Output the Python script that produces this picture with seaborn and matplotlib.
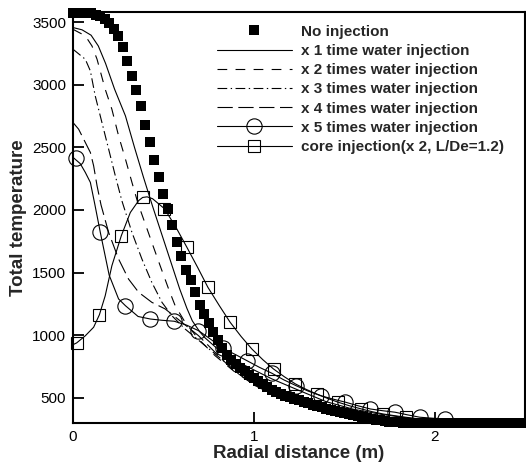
import numpy as np
import matplotlib
matplotlib.use("Agg")
import matplotlib.pyplot as plt
import seaborn as sns
from matplotlib.lines import Line2D

sns.set_style("ticks")
plt.rcParams['font.family'] = ['Liberation Sans', 'DejaVu Sans']
plt.rcParams['lines.scale_dashes'] = False

# no injection: sampled every 0.025 m
r_base = np.round(np.arange(0, 2.5001, 0.025), 3)
t_base = [3575, 3575, 3575, 3574, 3570, 3560, 3546, 3526, 3493, 3448,
          3385, 3300, 3190, 3070, 2955, 2830, 2680, 2545, 2395, 2260,
          2130, 2010, 1880, 1745, 1630, 1525, 1440, 1345, 1245, 1170,
          1100, 1030, 960, 895, 845, 805, 770, 740, 712, 686,
          660, 635, 610, 588, 567, 548, 532, 517, 504, 492,
          480, 468, 456, 445, 434, 424, 414, 405, 396, 388,
          380, 372, 364, 356, 348, 340, 333, 326, 320, 315,
          311, 307, 304, 302, 301, 300, 300, 300, 300, 300,
          300, 300, 300, 300, 300, 300, 300, 300, 300, 300,
          300, 300, 300, 300, 300, 300, 300, 300, 300, 300, 300]

r_x1 = [0.0, 0.05, 0.1, 0.14, 0.18, 0.23, 0.29, 0.34, 0.39, 0.44, 0.49, 0.54, 0.59,
        0.63, 0.66, 0.7, 0.73, 0.82, 0.95, 1.1, 1.25, 1.4, 1.55, 1.7, 1.85, 2.0, 2.2, 2.5]
t_x1 = [3456, 3438, 3395, 3309, 3170, 2964, 2751, 2500, 2260, 2030, 1810, 1590, 1370,
        1215, 1115, 1030, 980, 865, 760, 652, 560, 470, 410, 370, 340, 320, 308, 302]

r_x2 = [0.0, 0.068, 0.105, 0.133, 0.178, 0.215, 0.252, 0.29, 0.326, 0.36, 0.436, 0.482,
        0.529, 0.565, 0.62, 0.694, 0.786, 0.897, 1.026, 1.15, 1.3, 1.5, 1.7, 1.9, 2.1, 2.5]
t_x2 = [3442, 3390, 3309, 3203, 2964, 2804, 2592, 2406, 2220, 2050, 1741, 1555,
        1369, 1236, 1104, 970, 837, 705, 585, 500, 430, 370, 335, 315, 306, 301]

r_x3 = [0.0, 0.068, 0.096, 0.123, 0.16, 0.197, 0.234, 0.27, 0.326, 0.381, 0.436, 0.492,
        0.547, 0.62, 0.731, 0.842, 0.97, 1.1, 1.25, 1.45, 1.65, 1.85, 2.1, 2.5]
t_x3 = [3283, 3203, 3110, 2910, 2698, 2486, 2273, 2075, 1821, 1609, 1422, 1263,
        1156, 1050, 917, 784, 652, 560, 480, 400, 350, 320, 307, 301]

r_x4 = [0.0, 0.031, 0.068, 0.096, 0.114, 0.133, 0.155, 0.197, 0.252, 0.307, 0.363, 0.436,
        0.51, 0.602, 0.694, 0.786, 0.878, 1.007, 1.15, 1.3, 1.5, 1.7, 1.9, 2.1, 2.5]
t_x4 = [2698, 2645, 2539, 2459, 2353, 2193, 2040, 1821, 1609, 1449, 1343, 1263,
        1210, 1104, 997, 864, 731, 598, 510, 440, 375, 338, 316, 306, 301]

r_x5 = [0.0, 0.04, 0.068, 0.096, 0.12, 0.151, 0.2, 0.252, 0.29, 0.36, 0.427, 0.49, 0.56,
        0.63, 0.694, 0.76, 0.83, 0.9, 0.965, 1.03, 1.1, 1.165, 1.235, 1.3, 1.37, 1.44,
        1.507, 1.575, 1.644, 1.712, 1.781, 1.85, 1.918, 1.99, 2.055, 2.19, 2.33, 2.465, 2.5]
t_x5 = [2420, 2370, 2300, 2220, 2050, 1821, 1480, 1290, 1236, 1150, 1130, 1120, 1112,
        1080, 1037, 970, 895, 845, 795, 745, 697, 645, 597, 555, 518, 490,
        466, 438, 412, 398, 386, 365, 346, 338, 333, 320, 310, 305, 304]
r_x5_mk = [0.015, 0.151, 0.29, 0.427, 0.56, 0.694, 0.83, 0.965, 1.1, 1.235, 1.37,
           1.507, 1.644, 1.781, 1.918, 2.055]
t_x5_mk = [2414, 1821, 1236, 1130, 1112, 1037, 895, 795, 697, 597, 518,
           466, 412, 386, 346, 333]

r_core = [0.0, 0.02, 0.068, 0.114, 0.146, 0.178, 0.215, 0.267, 0.317, 0.363, 0.385, 0.41,
          0.44, 0.506, 0.57, 0.63, 0.69, 0.746, 0.81, 0.869, 0.93, 0.989, 1.05, 1.109,
          1.17, 1.23, 1.29, 1.35, 1.41, 1.466, 1.53, 1.595, 1.655, 1.715, 1.78, 1.84,
          1.9, 1.96, 2.08, 2.2, 2.32, 2.44, 2.5]
t_core = [925, 939, 996, 1064, 1164, 1315, 1555, 1794, 1980, 2075, 2100, 2105,
          2090, 2010, 1860, 1702, 1540, 1383, 1235, 1104, 990, 891, 805, 731,
          668, 612, 568, 530, 495, 466, 437, 412, 390, 372, 358, 346,
          335, 325, 315, 308, 305, 303, 302]
r_core_mk = [0.02, 0.146, 0.267, 0.385, 0.506, 0.63, 0.746, 0.869, 0.989, 1.109, 1.23,
             1.35, 1.466, 1.595, 1.715, 1.84]
t_core_mk = [939, 1164, 1794, 2100, 2010, 1702, 1383, 1104, 891, 731, 612,
             530, 466, 412, 372, 346]

labels = ['No injection', 'x 1 time water injection', 'x 2 times water injection',
          'x 3 times water injection', 'x 4 times water injection',
          'x 5 times water injection', 'core injection(x 2, L/De=1.2)']

lw = 0.8
ls_x2 = (0, (7, 6))
ls_x3 = (0, (7, 2.5, 1, 2.5))
ls_x4 = (0, (11, 4))

fig = plt.figure(figsize=(5.26, 4.66), dpi=100)
ax = fig.add_axes([0.1388, 0.0923, 0.8593, 0.8819])

sns.lineplot(x=r_x1, y=t_x1, ax=ax, color='black', lw=lw, sort=False, estimator=None)
sns.lineplot(x=r_x2, y=t_x2, ax=ax, color='black', lw=lw, linestyle=ls_x2, sort=False, estimator=None)
sns.lineplot(x=r_x3, y=t_x3, ax=ax, color='black', lw=lw, linestyle=ls_x3, sort=False, estimator=None)
sns.lineplot(x=r_x4, y=t_x4, ax=ax, color='black', lw=lw, linestyle=ls_x4, sort=False, estimator=None)
sns.lineplot(x=r_x5, y=t_x5, ax=ax, color='black', lw=lw, sort=False, estimator=None)
sns.lineplot(x=r_x5_mk, y=t_x5_mk, ax=ax, color='black', linestyle='none', marker='o',
             markersize=11, markerfacecolor='none', markeredgecolor='black',
             markeredgewidth=0.8, sort=False, estimator=None, clip_on=False)
sns.lineplot(x=r_core, y=t_core, ax=ax, color='black', lw=lw, sort=False, estimator=None)
sns.lineplot(x=r_core_mk, y=t_core_mk, ax=ax, color='black', linestyle='none', marker='s',
             markersize=8, markerfacecolor='none', markeredgecolor='black',
             markeredgewidth=0.8, sort=False, estimator=None, clip_on=False)
sns.lineplot(x=r_base, y=t_base, ax=ax, color='black', linestyle='none', marker='s',
             markersize=7.3, markeredgewidth=0, sort=False, estimator=None,
             clip_on=False, zorder=5)

ax.set_xlim(0, 2.5)
ax.set_ylim(300, 3580)
ax.set_xticks([0, 1, 2])
ax.set_yticks([500, 1000, 1500, 2000, 2500, 3000, 3500])
ax.tick_params(direction='in', length=8, width=1.3, labelsize=11, pad=5, colors='black')
for side in ['left', 'bottom', 'top', 'right']:
    ax.spines[side].set_linewidth(1.5)
    ax.spines[side].set_color('black')

ax.set_xlabel('Radial distance (m)', fontsize=13.5, fontweight='bold', labelpad=1)
ax.set_ylabel('Total temperature', fontsize=13.5, fontweight='bold', labelpad=4)

handles = [
    Line2D([], [], linestyle='none', marker='s', markersize=7.3, color='black', markeredgewidth=0),
    Line2D([], [], color='black', lw=lw),
    Line2D([], [], color='black', lw=lw, linestyle=ls_x2),
    Line2D([], [], color='black', lw=lw, linestyle=ls_x3),
    Line2D([], [], color='black', lw=lw, linestyle=ls_x4),
    Line2D([], [], color='black', lw=lw, marker='o', markersize=11,
           markerfacecolor='none', markeredgecolor='black', markeredgewidth=0.8),
    Line2D([], [], color='black', lw=lw, marker='s', markersize=8,
           markerfacecolor='none', markeredgecolor='black', markeredgewidth=0.8),
]
ax.legend(handles, labels, loc='upper left', bbox_to_anchor=(0.3186, 0.969),
          frameon=False, prop={'weight': 'bold', 'size': 11}, handlelength=4.9,
          handletextpad=0.6, labelspacing=0.34, borderpad=0, borderaxespad=0)

fig.savefig('out.png', dpi=100)
